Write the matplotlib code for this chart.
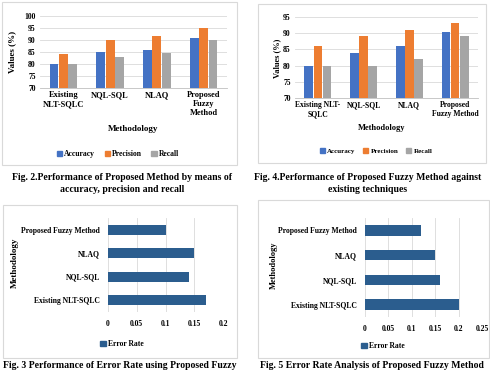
import numpy as np
import matplotlib
matplotlib.use("Agg")
import matplotlib.pyplot as plt
from matplotlib.patches import Rectangle

plt.rcParams['font.family'] = ['Liberation Serif', 'DejaVu Serif']
plt.rcParams['font.weight'] = 'bold'

# Fig. 2 data
cats2 = ["Existing\nNLT-SQLC", "NQL-SQL", "NLAQ", "Proposed\nFuzzy\nMethod"]
acc2 = [80, 85, 85.8, 91]
prec2 = [84, 90, 91.5, 95]
rec2 = [80, 83, 84.5, 90]

# Fig. 4 data
cats4 = ["Existing NLT-\nSQLC", "NQL-SQL", "NLAQ", "Proposed\nFuzzy Method"]
acc4 = [80, 84, 86, 90.5]
prec4 = [86, 89, 91, 93]
rec4 = [80, 80, 82, 89]

# Fig. 3 / Fig. 5 data (error rate)
err_cats = ["Existing NLT-SQLC", "NQL-SQL", "NLAQ", "Proposed Fuzzy Method"]
err3 = [0.17, 0.14, 0.15, 0.10]
err5 = [0.20, 0.16, 0.15, 0.12]

BLUE = "#4472C4"; ORANGE = "#ED7D31"; GRAY = "#A5A5A5"; DARK = "#2B5D8E"
W, H = 490, 370

fig = plt.figure(figsize=(4.9, 3.7), dpi=100)

def px(x0, y0, x1, y1):
    return [x0 / W, 1 - y1 / H, (x1 - x0) / W, (y1 - y0) / H]

def frame(x0, y0, x1, y1):
    fig.patches.append(Rectangle((x0 / W, 1 - y1 / H), (x1 - x0) / W, (y1 - y0) / H,
                                 transform=fig.transFigure, fill=False,
                                 edgecolor="#D9D9D9", linewidth=0.8))

def ftext(x, y, s, **kw):
    fig.text(x / W, 1 - y / H, s, **kw)

def grouped(rect, cats, series, ylim, yticks, fs):
    ax = fig.add_axes(px(*rect))
    x = np.arange(len(cats))
    w = 0.19
    for k, (vals, col) in enumerate(series):
        ax.bar(x + (k - 1) * w * 1.05, vals, w, color=col)
    ax.set_ylim(*ylim)
    ax.set_yticks(yticks)
    ax.set_xlim(-0.5, len(cats) - 0.5)
    ax.set_xticks(x)
    ax.set_xticklabels(cats, fontsize=fs)
    ax.tick_params(axis='y', labelsize=5.5, length=0, pad=3)
    ax.tick_params(axis='x', length=0, pad=2)
    ax.yaxis.grid(True, color="#D9D9D9", linewidth=0.6)
    ax.set_axisbelow(True)
    for s in ["top", "right", "left"]:
        ax.spines[s].set_visible(False)
    ax.spines["bottom"].set_color("#BFBFBF")
    ax.spines["bottom"].set_linewidth(0.6)
    return ax

def legend3(xc, y, fs):
    labels = ["Accuracy", "Precision", "Recall"]
    cols = [BLUE, ORANGE, GRAY]
    h = [Rectangle((0, 0), 1, 1, color=c) for c in cols]
    fig.legend(h, labels, loc="center", bbox_to_anchor=(xc / W, 1 - y / H), ncol=3,
               frameon=False, fontsize=fs, handlelength=0.7, handleheight=0.7,
               handletextpad=0.3, columnspacing=1.2)

def errbar(rect, vals, xmax, xticks, xticklabels):
    ax = fig.add_axes(px(*rect))
    y = np.arange(len(err_cats))
    ax.barh(y, vals, 0.42, color=DARK)
    ax.set_xlim(0, xmax)
    ax.set_ylim(-0.5, len(err_cats) - 0.5)
    ax.set_xticks(xticks)
    ax.set_xticklabels(xticklabels, fontsize=5.5)
    ax.set_yticks(y)
    ax.set_yticklabels(err_cats, fontsize=5.5)
    ax.tick_params(length=0, pad=6)
    ax.xaxis.grid(True, color="#D9D9D9", linewidth=0.6)
    ax.set_axisbelow(True)
    for s in ax.spines.values():
        s.set_visible(False)
    return ax

# Fig. 2
frame(2, 2, 237, 165)
grouped((40, 16, 227, 88), cats2,
        [(acc2, BLUE), (prec2, ORANGE), (rec2, GRAY)], (70, 100), range(70, 101, 5), 6)
ftext(12, 52, "Values (%)", rotation=90, ha="center", va="center", fontsize=6.5)
ftext(133, 129, "Methodology", ha="center", va="center", fontsize=6.5)
legend3(118, 154, 5.5)
ftext(122, 178, "Fig. 2.Performance of Proposed Method by means of", ha="center", va="center", fontsize=7)
ftext(122, 189, "accuracy, precision and recall", ha="center", va="center", fontsize=7)

# Fig. 4
frame(258, 4, 486, 163)
grouped((295, 17, 478, 98), cats4,
        [(acc4, BLUE), (prec4, ORANGE), (rec4, GRAY)], (70, 95), range(70, 96, 5), 5.5)
ftext(277, 58, "Values (%)", rotation=90, ha="center", va="center", fontsize=6)
ftext(382, 128, "Methodology", ha="center", va="center", fontsize=6)
legend3(376, 151, 5)
ftext(368, 178, "Fig. 4.Performance of Proposed Fuzzy Method against", ha="center", va="center", fontsize=7)
ftext(368, 190, "existing techniques", ha="center", va="center", fontsize=7)

# Fig. 3
frame(3, 205, 237, 358)
errbar((108, 218, 223, 312), err3, 0.2, [0, 0.05, 0.1, 0.15, 0.2],
       ["0", "0.05", "0.1", "0.15", "0.2"])
ftext(15, 263, "Methodology", rotation=90, ha="center", va="center", fontsize=6.5)
fig.legend([Rectangle((0, 0), 1, 1, color=DARK)], ["Error Rate"], loc="center",
           bbox_to_anchor=(122 / W, 1 - 344 / H), frameon=False, fontsize=5.5,
           handlelength=0.7, handleheight=0.7, handletextpad=0.3)
ftext(120, 366, "Fig. 3 Performance of Error Rate using Proposed Fuzzy", ha="center", va="center", fontsize=7)

# Fig. 5
frame(258, 200, 489, 358)
errbar((365, 218, 482, 317), err5, 0.25, [0, 0.05, 0.1, 0.15, 0.2, 0.25],
       ["0", "0.05", "0.1", "0.15", "0.2", "0.25"])
ftext(274, 265, "Methodology", rotation=90, ha="center", va="center", fontsize=6)
fig.legend([Rectangle((0, 0), 1, 1, color=DARK)], ["Error Rate"], loc="center",
           bbox_to_anchor=(383 / W, 1 - 346 / H), frameon=False, fontsize=5.5,
           handlelength=0.7, handleheight=0.7, handletextpad=0.3)
ftext(372, 366, "Fig. 5 Error Rate Analysis of Proposed Fuzzy Method", ha="center", va="center", fontsize=7)

fig.savefig("out.png", dpi=100)
